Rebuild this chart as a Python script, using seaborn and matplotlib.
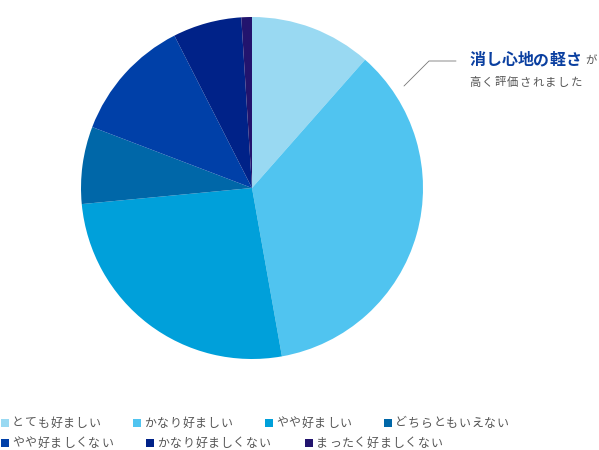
import matplotlib
matplotlib.use("Agg")
import matplotlib.pyplot as plt
from matplotlib.patches import Rectangle
import seaborn as sns

sns.set_theme(style="white")
plt.rcParams['font.family'] = ['Noto Sans CJK JP', 'DejaVu Sans']

labels = ["とても好ましい", "かなり好ましい", "やや好ましい", "どちらともいえない",
          "やや好ましくない", "かなり好ましくない", "まったく好ましくない"]
values = [11.5, 35.7, 26.3, 7.3, 11.7, 6.5, 1.0]
colors = ["#99d9f2", "#50c4f0", "#00a0da", "#0067a8", "#0040a8", "#002288", "#22146e"]

W, H = 599, 450
fig = plt.figure(figsize=(W / 100, H / 100), dpi=100)
fig.patch.set_facecolor("white")

cx, cy, r = 252, 188, 171
ax = fig.add_axes([(cx - r) / W, (H - cy - r) / H, 2 * r / W, 2 * r / H])
ax.pie(values, colors=colors, startangle=90, counterclock=False,
       wedgeprops=dict(linewidth=0))
ax.set_xlim(-1, 1)
ax.set_ylim(-1, 1)
ax.set_aspect("equal")
ax.axis("off")


def spaced_text(x0, y, s, step, **kw):
    # draw one char at a time so the letter spacing matches
    for i, ch in enumerate(s):
        fig.text((x0 + step * i) / W, 1 - y / H, ch, ha="center", va="center", **kw)


# callout
fig.add_artist(plt.Line2D([404 / W, 429 / W, 456 / W],
                          [1 - 86 / H, 1 - 61 / H, 1 - 61 / H],
                          color="#777777", linewidth=0.6))
spaced_text(477.5, 60, "消し心地の軽さ", 16.0, color="#0a3fa0",
            fontsize=11.5, fontweight="bold")
spaced_text(591, 61, "が", 0, color="#555555", fontsize=8.2)
spaced_text(474.5, 82.5, "高く評価されました", 12.7, color="#555555", fontsize=8.2)

# legend
legend_pos = [(1, 423), (133, 423), (265, 423), (384, 423),
              (1, 443), (146, 443), (305, 443)]
for (lx, ly), lab, col in zip(legend_pos, labels, colors):
    fig.add_artist(Rectangle((lx / W, 1 - (ly + 4) / H), 8 / W, 8 / H,
                             transform=fig.transFigure, color=col, linewidth=0))
    spaced_text(lx + 17, ly, lab, 12.7, color="#555555", fontsize=8.6)

fig.savefig("out.png", dpi=100, facecolor="white")
